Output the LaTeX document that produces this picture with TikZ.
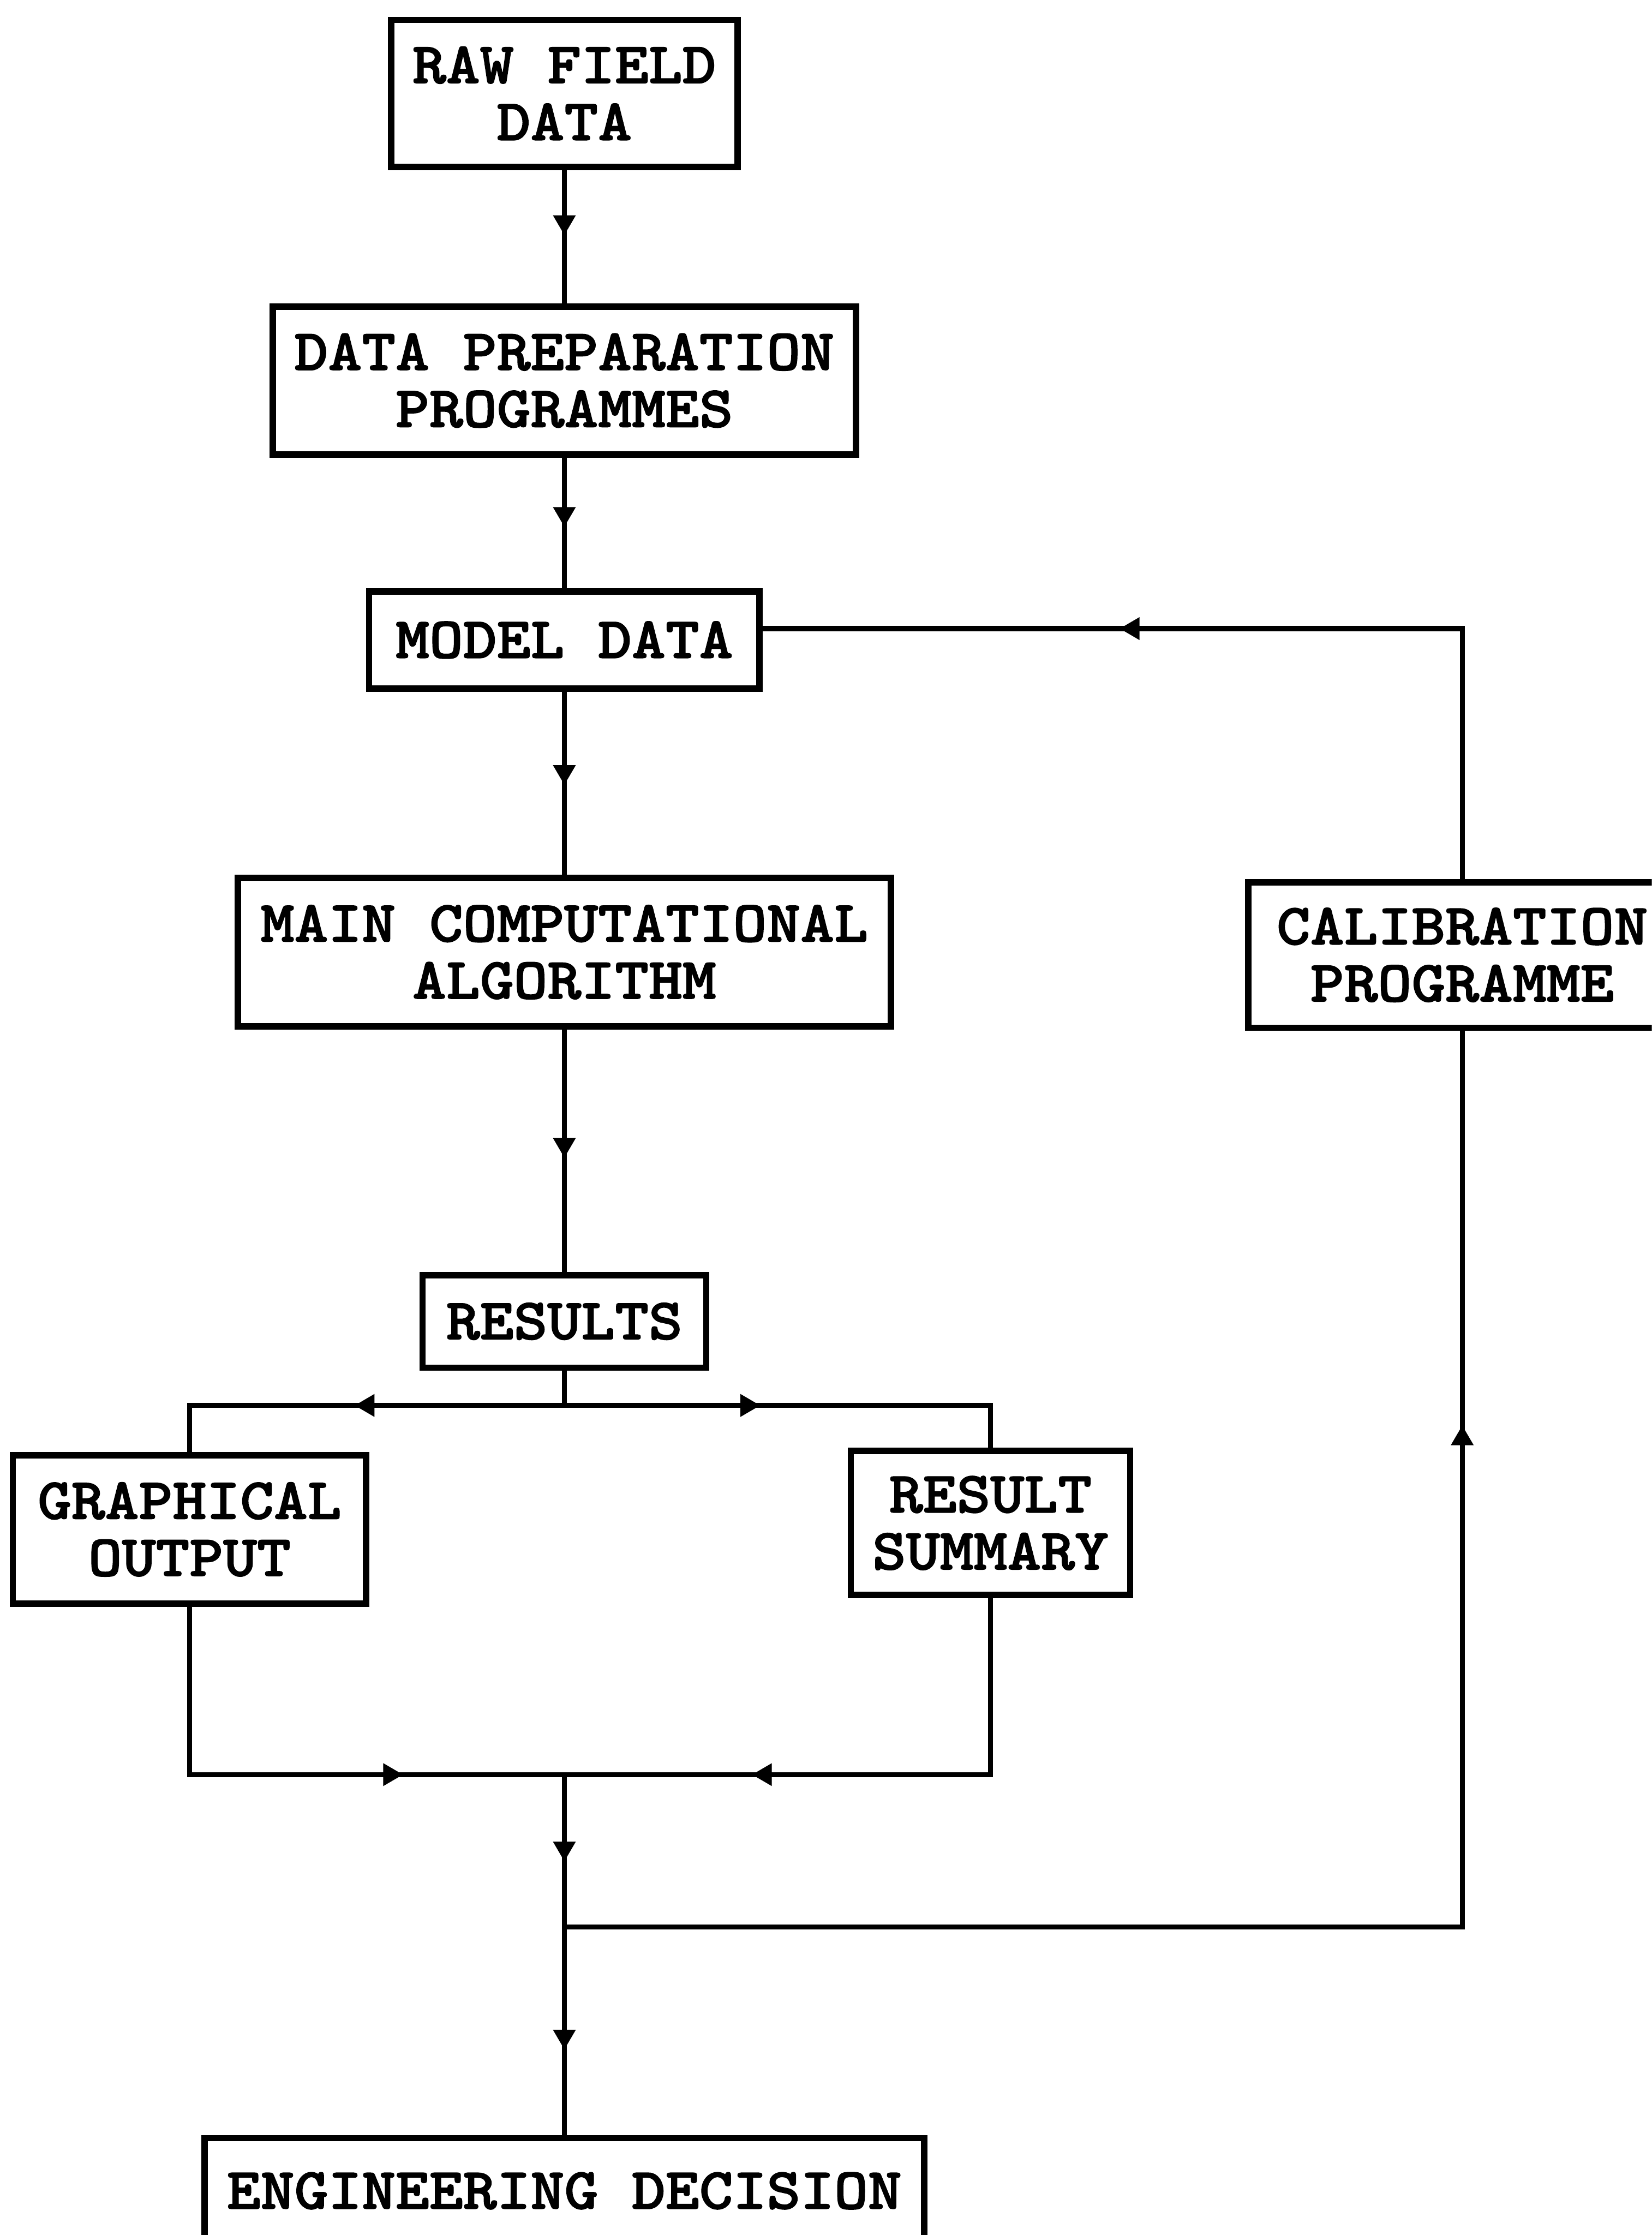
\documentclass[tikz,border=0pt]{standalone}
\usepackage{fontspec}
\newfontfamily\boxfont[FakeStretch=1.1,FakeBold=1.6]{lmmonolt10-bold.otf}
\usetikzlibrary{arrows.meta,decorations.markings}
\tikzset{
  box/.style={draw, line width=4.5pt, inner sep=0pt, align=center,
    font=\boxfont\fontsize{41}{40}\selectfont},
  conn/.style={line width=3.5pt, line cap=rect},
  midarrow/.style={postaction={decorate}, decoration={markings,
    mark=at position #1 with {\arrow{Triangle[length=14pt,width=15pt]}}}}
}
\begin{document}
\begin{tikzpicture}[x=1pt,y=-1pt]
\useasboundingbox (0,0) rectangle (1159,1568);
\clip (0,0) rectangle (1159,1568);
\fill[white] (0,0) rectangle (1159,1568);
% nodes
\node[box, minimum width=243pt, minimum height=103pt] (raw) at (396,65.5) {RAW FIELD\\DATA};
\node[box, minimum width=409pt, minimum height=104pt] (prep) at (396,267) {DATA PREPARATION\\PROGRAMMES};
\node[box, minimum width=274pt, minimum height=68pt] (model) at (396,449) {MODEL DATA};
\node[box, minimum width=458pt, minimum height=104pt] (main) at (396,668) {MAIN COMPUTATIONAL\\ALGORITHM};
\node[box, minimum width=300pt, minimum height=102pt] (cal) at (1026,670) {CALIBRATION\\PROGRAMME};
\node[box, minimum width=199pt, minimum height=65pt] (res) at (396,927) {RESULTS};
\node[box, minimum width=248pt, minimum height=104pt] (gra) at (133,1073) {GRAPHICAL\\OUTPUT};
\node[box, minimum width=196pt, minimum height=101pt] (sum) at (695,1068.5) {RESULT\\SUMMARY};
\node[box, minimum width=505pt, minimum height=74pt] (eng) at (396,1537) {ENGINEERING DECISION};
% junctions
\coordinate (jr) at (396,986);
\coordinate (jl) at (133,986);
\coordinate (jrr) at (695,986);
\coordinate (jm) at (396,1245);
\coordinate (ml) at (133,1245);
\coordinate (mr) at (695,1245);
\coordinate (jf) at (396,1352);
\coordinate (fr) at (1026,1352);
\coordinate (ft) at (1026,441);
% connectors
\draw[conn,midarrow=0.49] (raw) -- (prep);
\draw[conn,midarrow=0.53] (prep) -- (model);
\draw[conn,midarrow=0.51] (model) -- (main);
\draw[conn,midarrow=0.53] (main) -- (res);
\draw[conn] (res) -- (jr);
\draw[conn,midarrow=0.56] (jr) -- (jl);
\draw[conn] (jl) -- (gra);
\draw[conn,midarrow=0.46] (jr) -- (jrr);
\draw[conn] (jrr) -- (sum);
\draw[conn] (gra) -- (ml);
\draw[conn,midarrow=0.57] (ml) -- (jm);
\draw[conn] (sum) -- (mr);
\draw[conn,midarrow=0.56] (mr) -- (jm);
\draw[conn,midarrow=0.57] (jm) -- (jf);
\draw[conn,midarrow=0.59] (jf) -- (eng);
\draw[conn] (jf) -- (fr);
\draw[conn,midarrow=0.56] (fr) -- (cal);
\draw[conn] (cal) -- (ft);
\draw[conn,midarrow=0.49] (ft) -- (ft -| model.east);
\end{tikzpicture}
\end{document}
